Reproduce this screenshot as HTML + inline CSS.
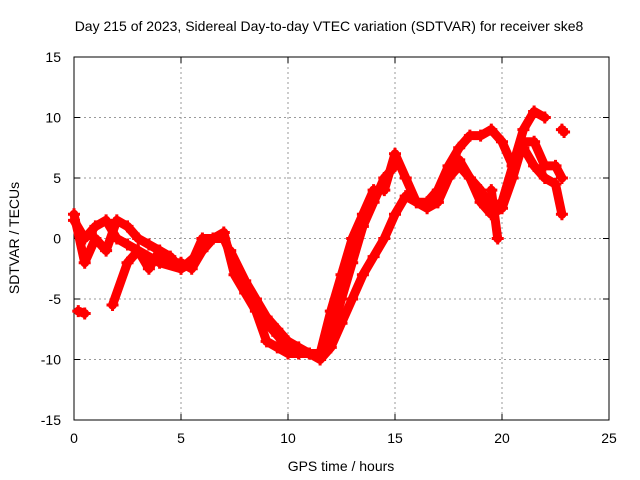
<!DOCTYPE html>
<html><head><meta charset="utf-8"><style>
body{margin:0;background:#fff;}
svg{display:block;font-family:"Liberation Sans",Arial,sans-serif;}
</style></head><body>
<svg id="chart" width="640" height="480" xmlns="http://www.w3.org/2000/svg">
<rect width="640" height="480" fill="#fff"/>
<text x="329" y="31" font-size="14" text-anchor="middle">Day 215 of 2023, Sidereal Day-to-day VTEC variation (SDTVAR) for receiver ske8</text>
<g id="grid"></g>
<g id="axes"></g>
<g id="series"></g>
<text x="341" y="471" font-size="14" text-anchor="middle">GPS time / hours</text>
<text transform="translate(19,238) rotate(-90)" font-size="14" text-anchor="middle">SDTVAR / TECUs</text>
</svg>
<script>
const xTicks=[0,5,10,15,20,25];
const yTicks=[-15,-10,-5,0,5,10,15];
const trackAHours=[0,0.5,1,1.5,2,2.5,3,4,5,6,6.5,7,7.5,8,8.5,9,9.5,10,10.5,11,11.5,12,12.5,13,13.5,14,14.5,15,15.5,16,16.5,17,17.5,18,18.5,19,19.5,20,20.5,21,21.5,22,22.5,22.8];
const trackAValues=[1.5,0,1,1.5,0,-0.5,-1,-2,-2.5,-1,0,0,-2,-4,-5.5,-7,-8,-9,-9.5,-9.5,-10,-9,-7,-5,-3,-1.5,0,2,3.5,3,3,4,6,7.5,8.5,8.5,9,8,6,7.5,6,5,4.5,2];
const trackBHours=[0,0.5,1,1.5,2,2.5,3,3.5,4,4.5,5,5.5,6,6.5,7,7.5,8,8.5,9,9.5,10,10.5,11,11.5,12,12.5,13,13.5,14,14.5,15,15.5,16,16.5,17,17.5,18,18.5,19,19.5,20,20.5,21,21.5,22];
const trackBValues=[2,-2,0,-1,1.5,1,0,-0.5,-1,-1.5,-2.5,-2,0,0,0.5,-3,-4.5,-6,-8.5,-9,-9.5,-9.5,-9.5,-9.5,-6,-3,0,2,4,4,7,5,3,2.5,3,5,6,5,4,2.5,3,6,9,10.5,10];
const trackCHours=[1.8,2.5,3,3.5,4,4.5,5,5.5,6,6.5];
const trackCValues=[-5.5,-2,-1,-2.5,-1,-2,-2,-2.5,-1,0];
const trackDHours=[17,17.5,18,18.5,19,19.5,20,20.5,21,21.5,22,22.5,22.8];
const trackDValues=[3,5,6.5,5,3,2,2.5,5,8,8,6,6,5];
const trackEHours=[0.2,0.5];
const trackEValues=[-6,-6.2];
const trackFHours=[19.5,19.8];
const trackFValues=[4,0];
const trackGHours=[22.8,22.9];
const trackGValues=[9,8.8];
const trackHHours=[7.3,8,8.5,9,9.5,10,10.5,11,11.5,12,12.5,13,13.5,14,14.5,15];
const trackHValues=[-1,-3.5,-5,-6.5,-7.5,-8.5,-9,-9.5,-9.5,-8,-5,-2,1,3,5,6];

const X0=74,X1=609,Y0=420,Y1=57;
const xs=v=>X0+(v-0)/(25-0)*(X1-X0);
const ys=v=>Y0-(v+15)/30*(Y0-Y1);
const NS="http://www.w3.org/2000/svg";
const grid=document.getElementById('grid'),axes=document.getElementById('axes'),ser=document.getElementById('series');
function mk(t,a,p){const e=document.createElementNS(NS,t);for(const k in a)e.setAttribute(k,a[k]);p.appendChild(e);return e;}
xTicks.forEach(t=>{
  if(t>0&&t<25){const g=mk('line',{x1:xs(t),x2:xs(t),y1:Y1,y2:Y0,stroke:'#999','stroke-dasharray':'2,3'},grid);
  
  }
  const l=mk('text',{x:xs(t),y:Y0+23,'font-size':14,'text-anchor':'middle'},axes);l.textContent=t;
  
  
  mk('line',{x1:xs(t),x2:xs(t),y1:Y0,y2:Y0-6,stroke:'#000'},axes);
  mk('line',{x1:xs(t),x2:xs(t),y1:Y1,y2:Y1+6,stroke:'#000'},axes);
});
yTicks.forEach(t=>{
  if(t>-15&&t<15){const g=mk('line',{x1:X0,x2:X1,y1:ys(t),y2:ys(t),stroke:'#999','stroke-dasharray':'2,3'},grid);
  
  }
  const l=mk('text',{x:X0-13,y:ys(t)+5,'font-size':14,'text-anchor':'end'},axes);l.textContent=t;
  
  
  mk('line',{x1:X0,x2:X0+6,y1:ys(t),y2:ys(t),stroke:'#000'},axes);
  mk('line',{x1:X1,x2:X1-6,y1:ys(t),y2:ys(t),stroke:'#000'},axes);
});
const fr=mk('rect',{x:X0,y:Y1,width:X1-X0,height:Y0-Y1,fill:'none',stroke:'#000'},axes);


const tracks=[[trackAHours,trackAValues],[trackBHours,trackBValues],[trackCHours,trackCValues],[trackDHours,trackDValues],[trackEHours,trackEValues],[trackFHours,trackFValues],[trackGHours,trackGValues],[trackHHours,trackHValues]];
tracks.forEach(([h,v],i)=>{
  const pts=h.map((t,j)=>xs(t)+','+ys(v[j])).join(' ');
  const pl=mk('polyline',{points:pts,fill:'none',stroke:'#f00','stroke-width':9,'stroke-linejoin':'round','stroke-linecap':'round'},ser);
  
  
  h.forEach((t,j)=>{
    const x=xs(t),y=ys(v[j]);
    const m=mk('path',{d:`M${x-6},${y}H${x+6}M${x},${y-6}V${y+6}`,stroke:'#f00','stroke-width':3},ser);
    
    
  });
});
</script>
</body></html>
